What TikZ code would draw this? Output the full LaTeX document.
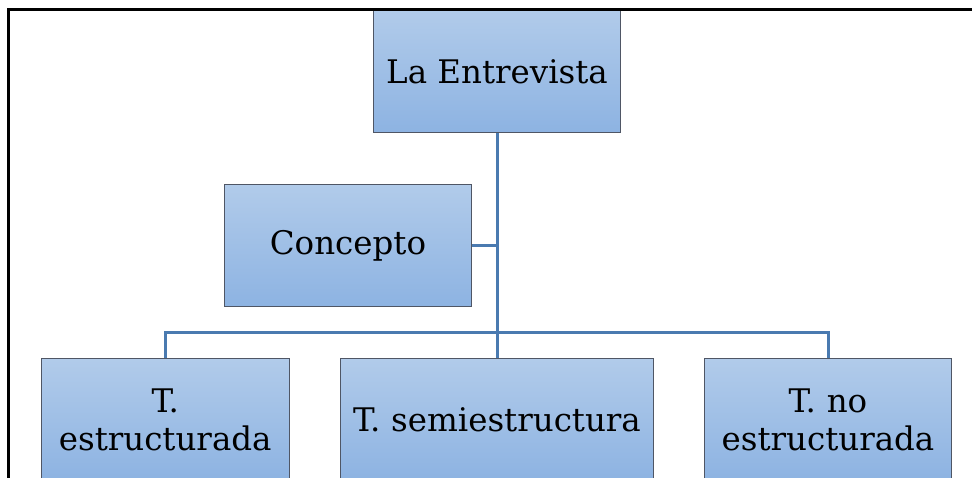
\documentclass[tikz,border=0pt]{standalone}
\usepackage{fontspec}
\setmainfont{DejaVu Serif}
\definecolor{boxtop}{HTML}{B1CBEA}
\definecolor{boxbot}{HTML}{8DB3E2}
\definecolor{boxline}{HTML}{4F5665}
\definecolor{conn}{HTML}{4A7AB0}
\tikzset{
  unitbox/.style={draw=boxline, line width=1.1pt, rectangle, top color=boxtop, bottom color=boxbot,
    inner sep=0pt, minimum height=122pt, align=center, font=\fontsize{32.5}{38}\selectfont},
  link/.style={draw=conn, line width=3pt},
  frame/.style={draw=black, line width=3pt}
}
\begin{document}
\begin{tikzpicture}[x=1pt,y=1pt]
\useasboundingbox (0,0) rectangle (972,-478);
\clip (0,0) rectangle (972,-478);
\coordinate (bus) at (497,-333);
\coordinate (cj) at (497,-245.7);
\node[unitbox, minimum width=247pt] (top) at (497,-71.3) {La Entrevista};
\node[unitbox, minimum width=247pt] (con) at (348,-245.7) {Concepto};
\node[unitbox, minimum width=248pt, text width=240pt] (b1) at (165.2,-419.7) {T.\\estructurada};
\node[unitbox, minimum width=313pt, text width=306pt] (b2) at (497,-419.7) {T. semiestructura};
\node[unitbox, minimum width=247pt, text width=240pt] (b3) at (828,-419.7) {T. no\\estructurada};
\draw[link] (top.south) -- (b2.north);
\draw[link] (con.east) -- (cj);
\draw[link] (b1.north) |- (bus) -| (b3.north);
\coordinate (f1) at (8.7,-478);
\coordinate (f2) at (8.7,-9.2);
\coordinate (f3) at (972,-9.2);
\draw[frame] (f1) -- (f2) -- (f3);
\end{tikzpicture}
\end{document}
